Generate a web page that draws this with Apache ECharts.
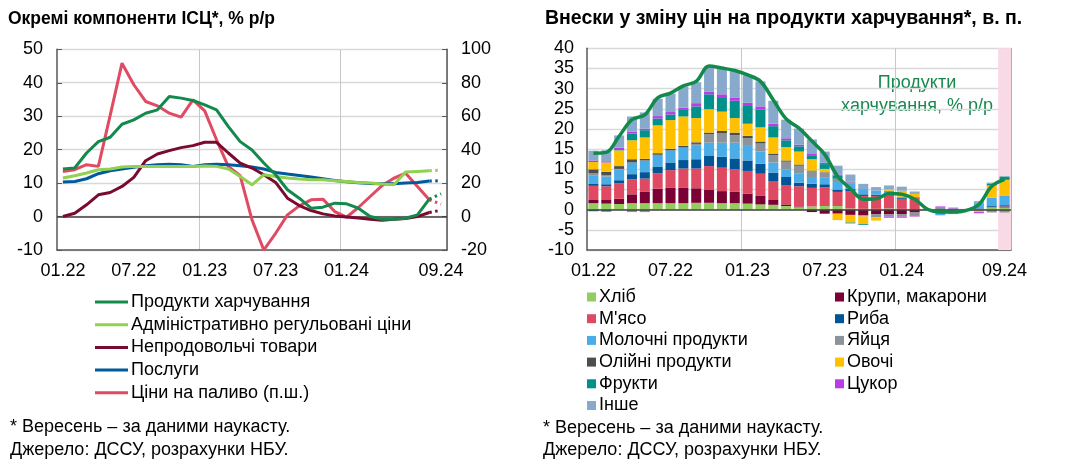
<!DOCTYPE html>
<html><head><meta charset="utf-8">
<script src="https://cdn.jsdelivr.net/npm/echarts@6/dist/echarts.min.js"></script>
<style>html,body{margin:0;padding:0;background:#fff}#c{width:1068px;height:467px}</style>
</head><body><div id="c"></div>
<script>
// ---------- data ----------
const months = ['01.22','02.22','03.22','04.22','05.22','06.22','07.22','08.22','09.22','10.22','11.22','12.22',
  '01.23','02.23','03.23','04.23','05.23','06.23','07.23','08.23','09.23','10.23','11.23','12.23',
  '01.24','02.24','03.24','04.24','05.24','06.24','07.24','08.24','09.24'];
const tickLabels = ['01.22','07.22','01.23','07.23','01.24','09.24'];
const yearStarts = ['01.23','01.24'];
const lastActual = '08.24';   // September is a nowcast
const nowcastMonth = '09.24';

// Left chart: CPI components, % y/y
const foodYoY     = [14.2,14.5,19.0,22.4,23.7,27.6,28.9,30.9,31.9,35.9,35.4,34.7,33.4,31.9,26.9,22.4,19.9,16.0,12.5,8.0,5.5,2.5,2.8,4.0,3.8,2.5,0.0,-0.8,-0.8,-0.5,0.5,5.2,6.8];
const adminYoY    = [11.5,12.2,13.0,14.0,14.2,14.8,15.0,15.0,15.0,15.0,15.0,15.0,15.1,15.0,14.2,12.0,9.5,12.5,12.0,11.5,11.2,11.0,11.0,10.7,10.5,10.2,10.0,9.7,9.5,13.3,13.5,13.7,13.9];
const nonFoodYoY  = [0.0,1.0,3.5,6.5,7.2,9.0,11.7,16.7,18.7,19.7,20.6,21.2,22.2,22.2,19.0,16.0,14.5,12.5,10.2,5.5,3.3,1.8,0.8,0.2,-0.1,-0.4,-0.8,-1.1,-0.8,-0.6,0.0,1.2,1.9];
const servicesYoY = [10.3,10.5,11.3,12.8,13.7,14.2,14.7,15.2,15.5,15.6,15.5,15.0,15.5,15.6,15.5,15.2,14.8,14.2,13.2,12.7,12.3,11.8,11.3,10.8,10.4,10.1,9.9,9.8,9.8,10.0,10.2,10.6,10.7];
const fuelYoY     = [27,28,31,30,60.5,91.7,78.8,68.8,66.2,61.8,59.4,69.8,63.2,45.9,29.9,24.5,-2,-20,-10,1,6.4,10,10.4,3,-0.4,5.4,12,18.5,22.9,25.9,18,10,7.5];

// Right chart: contributions to food inflation, p.p.
const bread     = [1.6,1.5,1.4,1.6,1.6,1.6,1.6,1.6,1.7,1.7,1.6,1.6,1.5,1.3,1.2,0.9,0.6,0.8,0.9,0.9,0.3,0.2,0.2,0.3,0.2,0.1,null,0,0,null,0.1,0.5,0.5];
const cereals   = [0.8,0.9,1.3,2.2,2.8,3.6,3.9,3.9,3.6,3.3,3.0,2.9,2.5,2.1,1.2,0.4,0.2,-0.6,-1.0,-1.0,-1.3,-1.4,-1.1,-1.1,-1.1,-0.7,null,0,0,null,0,0,0.1];
const meat      = [3.5,3.4,3.8,3.7,3.3,3.8,4.3,4.7,4.9,5.8,5.8,5.5,5.6,5.5,4.7,4.8,5.0,4.6,4.6,3.5,4.2,3.2,3.2,3.4,2.5,2.9,null,0,0,null,0,0.2,0.2];
const fish      = [0.6,0.5,0.8,1.3,1.6,1.7,1.9,2.1,2.3,2.5,2.7,2.7,2.6,2.5,2.1,2.0,0.9,1.0,0.8,0.6,0.6,0.4,0.3,0.4,0.3,0.1,null,0,0,null,0.2,0.2,0.3];
const dairy     = [1.9,1.9,2.6,2.9,2.9,2.9,3.0,3.1,3.5,3.3,3.5,3.9,3.6,3.0,2.5,1.9,2.2,1.7,1.6,2.1,1.3,1.2,1.0,0.6,0.2,0,null,-1.4,-0.8,null,1.1,2.1,2.3];
const eggs      = [0.6,0.4,0.2,-0.6,-0.6,0,0,0,0.3,2.1,2.3,1.9,1.9,2.0,1.8,1.9,2.0,1.4,1.3,0.5,0.4,-0.3,-0.8,-0.6,-0.6,-0.7,null,0.5,0.3,null,0,-0.7,-0.7];
const oils      = [1.0,0.8,0.7,0.8,0.4,0.4,0.4,0.4,0.4,0.4,0.6,0.6,0.6,0.5,0.4,0.3,0.3,0.2,0.1,0.1,0,0,0,0,0,0,null,0,0,null,0,0,0];
const vegetables= [1.8,2.3,3.9,4.7,5.3,6.9,7.1,7.3,6.0,5.8,4.8,3.6,3.0,3.5,4.0,3.3,3.2,2.8,0.8,-1.6,-1.9,-1.9,-0.8,0.3,1.5,0.8,null,0,0,null,-0.6,3.0,4.0];
const fruits    = [-0.4,-0.5,0.3,1.7,1.8,1.7,1.4,1.8,2.9,3.7,3.6,4.3,4.4,4.4,2.8,1.7,1.3,1.0,1.2,0.7,-0.2,-0.2,0,0,0,0,null,0,0,null,0,0.5,0.8];
const sugar     = [0.4,0.3,0.4,0.4,0.4,0.6,0.6,0.4,0.8,0.7,0.7,0.7,0.8,0.8,0.6,0.5,0.4,0.3,0.3,0.3,0.1,0.1,0,-0.3,-0.3,-0.3,null,0.3,0.2,null,-0.3,0,0];
const other     = [2.4,2.7,3.0,3.8,4.0,4.3,4.6,5.3,5.2,6.2,6.4,6.7,6.8,6.2,5.7,4.6,4.0,3.6,2.8,2.2,1.8,1.3,0.9,1.0,1.0,0.6,null,0,-0.3,null,0.7,0.2,0];
const foodTotal = [14.0,14.2,18.2,22.3,23.5,27.7,28.9,30.7,31.8,35.6,35.1,34.5,33.4,31.8,27.2,22.5,20.2,17.0,13.7,8.3,5.2,2.6,2.7,4.0,3.8,2.6,0.1,-0.6,-0.6,-0.2,1.3,5.8,7.5];

// ---------- chart ----------
const FONT = '"Liberation Sans", Arial, sans-serif';
const idxLast = months.indexOf(lastActual);
const solid = a => a.map((v,i)=> i<=idxLast ? v : null);
const dotted = a => a.map((v,i)=> i>=idxLast ? v : null);
const lbl = { fontSize: 18, color: '#000', fontFamily: FONT };
const xLabelInterval = (i) => tickLabels.includes(months[i]);
const xSplitInterval = (i) => yearStarts.includes(months[i]);
const AX = '#595959';

const leftLines = [
  {name:'Продукти харчування', data: foodYoY, color:'#138a4c', y:0},
  {name:'Адміністративно регульовані ціни', data: adminYoY, color:'#92d050', y:0},
  {name:'Непродовольчі товари', data: nonFoodYoY, color:'#7a0a30', y:0},
  {name:'Послуги', data: servicesYoY, color:'#005a9c', y:0},
  {name:'Ціни на паливо (п.ш.)', data: fuelYoY, color:'#e04a63', y:1}
];
const contrib = [
  {name:'Хліб', data: bread, color:'#92cd5e'},
  {name:'Крупи, макарони', data: cereals, color:'#7b0033'},
  {name:"М'ясо", data: meat, color:'#df4a62'},
  {name:'Риба', data: fish, color:'#005596'},
  {name:'Молочні продукти', data: dairy, color:'#4aade8'},
  {name:'Яйця', data: eggs, color:'#8c9399'},
  {name:'Олійні продукти', data: oils, color:'#4d4d4d'},
  {name:'Овочі', data: vegetables, color:'#ffc000'},
  {name:'Фрукти', data: fruits, color:'#00918a'},
  {name:'Цукор', data: sugar, color:'#b83de6'},
  {name:'Інше', data: other, color:'#87a9cc'}
];

const series = [];
leftLines.forEach((s, k) => {
  const base = {type:'line', xAxisIndex:0, yAxisIndex:s.y, symbol:'none', z: 5 + (leftLines.length-k)};
  series.push(Object.assign({}, base, {name:s.name, data: solid(s.data), lineStyle:{color:s.color, width:3}, itemStyle:{color:s.color},
    markLine: k===0 ? {silent:true, symbol:['none','none'], label:{show:false}, lineStyle:{color:'#404040', width:1.5, type:'solid'}, data:[{yAxis:0}]} : undefined}));
  series.push(Object.assign({}, base, {name:s.name+' (наукаст)', data: dotted(s.data), lineStyle:{color:s.color, width:3, type:[2.5,3.5]}, itemStyle:{color:s.color}}));
});
contrib.forEach(s => {
  series.push({type:'bar', name:s.name, stack:'contrib', xAxisIndex:1, yAxisIndex:2, data:s.data,
    barCategoryGap:'22%', itemStyle:{color:s.color}, z:3});
});
series.push({type:'line', name:'Продукти харчування, % р/р', xAxisIndex:1, yAxisIndex:2, data: foodTotal, smooth:0.35,
  symbol:'none', lineStyle:{color:'#138a4c', width:3.5}, z:6,
  markLine:{silent:true, symbol:['none','none'], label:{show:false}, lineStyle:{color:'#404040', width:1.5, type:'solid'}, data:[{yAxis:0}]}});
series.push({type:'bar', name:'nowcast', xAxisIndex:2, yAxisIndex:4, barWidth:'100%', z:1, silent:true,
  data: months.map(m => m===nowcastMonth ? 1 : null), itemStyle:{color:'#f9d9e6'}});

const legendText = {fontSize:18, lineHeight:20, color:'#000', fontFamily:FONT, padding:[0,0,0,-2]};
const option = {
  animation:false,
  textStyle:{fontFamily:FONT},
  title:[
    {text:'Окремі компоненти ІСЦ*, % р/р', left:8, top:10, padding:0, textStyle:{fontSize:17.5, fontWeight:'bold', color:'#000', fontFamily:FONT}},
    {text:'Внески у зміну цін на продукти харчування*, в. п.', left:545, top:9, padding:0, textStyle:{fontSize:19.5, fontWeight:'bold', color:'#000', fontFamily:FONT}}
  ],
  grid:[
    {left:57, top:49.3, width:390, height:200.7},
    {left:587, top:48.3, width:424, height:201.7}
  ],
  xAxis:[
    {gridIndex:0, type:'category', data:months, boundaryGap:true,
      axisLine:{onZero:false, lineStyle:{color:AX, width:1.5}}, axisTick:{show:false},
      axisLabel:Object.assign({interval:xLabelInterval, margin:12}, lbl),
      splitLine:{show:true, interval:xSplitInterval, lineStyle:{color:'#c4c8cc', width:1}}},
    {gridIndex:1, type:'category', data:months, boundaryGap:true,
      axisLine:{onZero:false, lineStyle:{color:AX, width:1.5}}, axisTick:{show:false},
      axisLabel:Object.assign({interval:xLabelInterval, margin:12}, lbl),
      splitLine:{show:true, interval:xSplitInterval, lineStyle:{color:'#c4c8cc', width:1}}},
    {gridIndex:1, type:'category', data:months, boundaryGap:true, show:false}
  ],
  yAxis:[
    {gridIndex:0, type:'value', min:-10, max:50, interval:10,
      axisLine:{show:true, lineStyle:{color:AX, width:1.5}}, axisTick:{show:true, inside:true, length:5, lineStyle:{color:AX}},
      axisLabel:Object.assign({margin:14}, lbl), splitLine:{lineStyle:{color:'#d9d9d9', width:1.3}}},
    {gridIndex:0, type:'value', position:'right', min:-20, max:100, interval:20,
      axisLine:{show:true, lineStyle:{color:AX, width:1.5}}, axisTick:{show:true, inside:true, length:5, lineStyle:{color:AX}},
      axisLabel:Object.assign({margin:14}, lbl), splitLine:{show:false}},
    {gridIndex:1, type:'value', min:-10, max:40, interval:5,
      axisLine:{show:true, lineStyle:{color:AX, width:1.5}}, axisTick:{show:false},
      axisLabel:Object.assign({margin:13}, lbl), splitLine:{lineStyle:{color:'#d9d9d9', width:1.3}}},
    {gridIndex:1, type:'value', position:'right', min:-10, max:40, interval:5,
      axisLine:{show:true, lineStyle:{color:'#b0b0b0', width:1}}, axisTick:{show:false}, axisLabel:{show:false}, splitLine:{show:false}},
    {gridIndex:1, type:'value', min:0, max:1, show:false}
  ],
  legend:[
    {data: leftLines.map(s=>s.name), orient:'vertical', left:95, top:292, padding:0, icon:'rect', itemWidth:33, itemHeight:3,
      itemGap:2.7, textStyle:legendText},
    {data: contrib.filter((s,i)=>i%2===0).map(s=>s.name), orient:'vertical', left:587, top:287, padding:0, icon:'rect', itemWidth:9, itemHeight:9,
      itemGap:1.7, textStyle:legendText},
    {data: contrib.filter((s,i)=>i%2===1).map(s=>s.name), orient:'vertical', left:835, top:287, padding:0, icon:'rect', itemWidth:9, itemHeight:9,
      itemGap:1.7, textStyle:legendText}
  ],
  graphic:[
    {type:'text', left:10, top:418, style:{text:'* Вересень – за даними наукасту.', font:'18px '+FONT, fill:'#000'}},
    {type:'text', left:10, top:441, style:{text:'Джерело: ДССУ, розрахунки НБУ.', font:'18px '+FONT, fill:'#000'}},
    {type:'text', left:543, top:419, style:{text:'* Вересень – за даними наукасту.', font:'18px '+FONT, fill:'#000'}},
    {type:'text', left:543, top:441, style:{text:'Джерело: ДССУ, розрахунки НБУ.', font:'18px '+FONT, fill:'#000'}},
    {type:'text', x:917, y:72, style:{text:'Продукти\nхарчування, % р/р', font:'18px '+FONT, fill:'#17894f', align:'center', lineHeight:23}}
  ],
  series: series
};
const chart = echarts.init(document.getElementById('c'), null, {renderer:'canvas'});
chart.setOption(option);
</script>
</body></html>
